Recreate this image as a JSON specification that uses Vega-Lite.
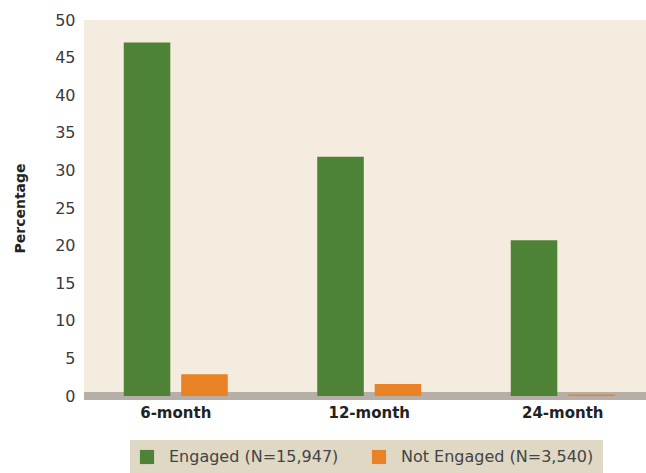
{
  "$schema": "https://vega.github.io/schema/vega-lite/v6.json",
  "width": 562,
  "height": 376,
  "autosize": "none",
  "padding": {"left": 84, "top": 20, "right": 0, "bottom": 77},
  "background": "white",
  "config": {
    "view": {"fill": "#f5ece0", "stroke": null},
    "font": "DejaVu Sans"
  },
  "data": {
    "values": [
      {"period": "6-month", "group": "Engaged (N=15,947)", "value": 47.0},
      {"period": "6-month", "group": "Not Engaged (N=3,540)", "value": 2.9},
      {"period": "12-month", "group": "Engaged (N=15,947)", "value": 31.8},
      {"period": "12-month", "group": "Not Engaged (N=3,540)", "value": 1.6},
      {"period": "24-month", "group": "Engaged (N=15,947)", "value": 20.7},
      {"period": "24-month", "group": "Not Engaged (N=3,540)", "value": 0.2}
    ]
  },
  "encoding": {
    "y": {
      "type": "quantitative",
      "scale": {"domain": [0, 50], "nice": false},
      "axis": {
        "title": "Percentage",
        "titleFontSize": 14,
        "titleFontWeight": "bold",
        "titleColor": "#222222",
        "titleX": -64,
        "titleY": 188,
        "titleAngle": -90,
        "titleAlign": "center",
        "titleBaseline": "middle",
        "values": [0, 5, 10, 15, 20, 25, 30, 35, 40, 45, 50],
        "labelOverlap": false,
        "domain": false,
        "ticks": false,
        "labelPadding": 9,
        "labelFontSize": 16,
        "labelColor": "#3a3a3a",
        "gridColor": "#c9c1ba",
        "gridWidth": 1.5
      }
    }
  },
  "layer": [
    {
      "mark": {"type": "rule", "color": "#b6afa8", "strokeWidth": 8},
      "encoding": {"y": {"datum": 0, "type": "quantitative"}}
    },
    {
      "mark": {"type": "bar", "cornerRadius": 0},
      "encoding": {
        "x": {
          "field": "period",
          "type": "nominal",
          "sort": ["6-month", "12-month", "24-month"],
          "scale": {"paddingInner": 0.4625, "paddingOuter": 0.1834, "align": 0.56},
          "axis": {
            "title": null,
            "labelAngle": 0,
            "domain": false,
            "ticks": false,
            "labelPadding": 9,
            "labelFontSize": 15,
            "labelFontWeight": "bold",
            "labelColor": "#222222"
          }
        },
        "xOffset": {
          "field": "group",
          "type": "nominal",
          "scale": {"paddingInner": 0.19, "paddingOuter": 0}
        },
        "y": {"field": "value", "type": "quantitative"},
        "color": {
          "field": "group",
          "type": "nominal",
          "scale": {"range": ["#4e8236", "#e98125"]},
          "legend": {
            "title": null,
            "orient": "none",
            "direction": "horizontal",
            "legendX": 46,
            "legendY": 420,
            "fillColor": "#dfd8c5",
            "padding": 9,
            "symbolType": "square",
            "symbolSize": 200,
            "symbolStrokeWidth": 0,
            "labelFontSize": 16,
            "labelColor": "#444444",
            "labelOffset": 14,
            "columnPadding": 32,
            "labelLimit": 300
          }
        }
      }
    }
  ]
}
